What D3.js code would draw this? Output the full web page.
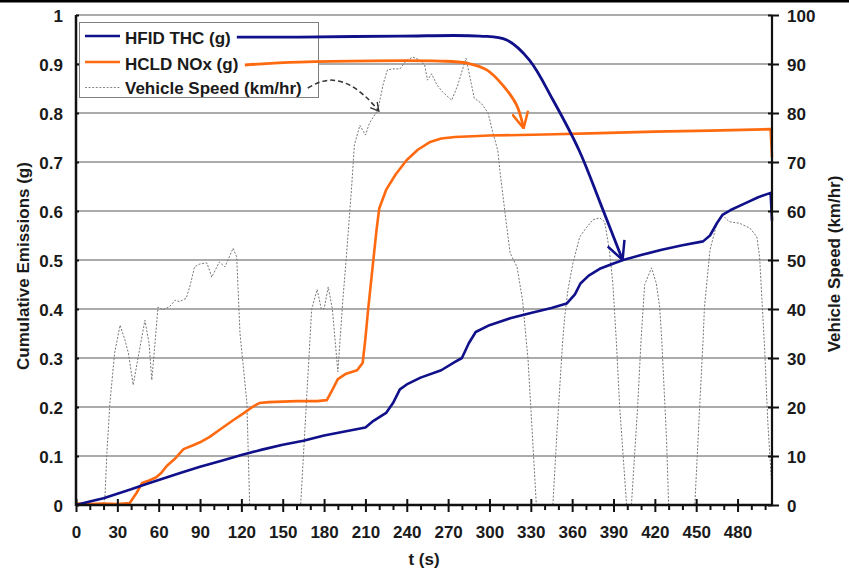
<!DOCTYPE html>
<html>
<head>
<meta charset="utf-8">
<script src="https://cdn.jsdelivr.net/npm/d3@7"></script>
<style>
  body { margin: 0; background: #fff; }
  svg { display: block; }
  text { font-family: "Liberation Sans", Arial, sans-serif; font-weight: bold; font-size: 17px; fill: #1a1a1a; }
</style>
</head>
<body>
<svg id="chart" width="849" height="571"></svg>
<script>
// cumulative THC, g  [t (s), g]
var thcSeries = [[0,0],[10,0.007],[20,0.014],[30,0.023],[40,0.032],[50,0.042],[60,0.051],[75,0.065],[90,0.078],[105,0.09],[120,0.102],[135,0.113],[150,0.123],[165,0.131],[180,0.142],[195,0.15],[210,0.158],[215,0.17],[225,0.188],[230,0.208],[235,0.236],[240,0.246],[250,0.26],[265,0.275],[275,0.292],[280,0.3],[285,0.33],[290,0.353],[300,0.367],[315,0.381],[330,0.392],[345,0.402],[356,0.411],[362,0.43],[366,0.452],[372,0.468],[380,0.482],[390,0.493],[397,0.5],[410,0.51],[425,0.521],[440,0.53],[455,0.538],[460,0.55],[465,0.575],[469,0.592],[475,0.602],[485,0.615],[495,0.628],[504,0.637],[505,0.58]];

// cumulative NOx, g
var noxSeries = [[0,0.003],[10,0.002],[20,0.003],[30,0.002],[39,0.004],[44,0.025],[48,0.045],[53,0.05],[58,0.056],[62,0.066],[66,0.08],[72,0.095],[78,0.114],[85,0.122],[90,0.128],[97,0.139],[105,0.155],[114,0.173],[122,0.188],[128,0.2],[133,0.208],[140,0.21],[160,0.212],[175,0.212],[182,0.214],[186,0.235],[190,0.257],[196,0.268],[204,0.275],[208,0.29],[210,0.34],[212,0.4],[215,0.48],[218,0.56],[220,0.605],[225,0.643],[232,0.675],[240,0.704],[248,0.725],[257,0.741],[265,0.748],[275,0.751],[300,0.754],[340,0.756],[380,0.759],[420,0.762],[460,0.764],[504,0.767],[505,0.71]];

// vehicle speed, km/hr
var speedSeries = [[0,0],[20,0],[21,1.6],[22.4,10.6],[24.6,20.8],[28,31],[32,36.7],[35.5,33.7],[38,31],[41.5,24.5],[45,30],[50,37.7],[53,33],[55,25.5],[57,32],[59.5,40.4],[63,39.8],[68,40.5],[72,41.8],[75,41.5],[80,42.2],[83,45],[86,48.6],[90,49.2],[95,49.4],[98.5,46.5],[104,49.6],[108,48.6],[114,52.4],[116.6,50.6],[119,35],[124,20.8],[126,0],[163,0],[167,20],[171,40],[175,44],[178,40],[180,40],[183,44.5],[186,40],[190,27.2],[193.6,41.8],[196,50],[200,65],[202,73.5],[206,77.5],[210,75.5],[213,78],[219,80.6],[223,86],[226,88.8],[230,89],[235,89],[240,90.8],[244.5,91.4],[249.5,90.8],[253,89.8],[255,86.7],[258,88],[262,85.7],[266,84.3],[272.6,82.6],[277,85.7],[283,91.2],[287,85.7],[289,83],[294,82],[299,80],[302,76.5],[306,72.4],[307.5,68.4],[312,58],[315,51.4],[320,48.6],[324,41.8],[328,29.6],[331,15],[334,0],[346,0],[349,15],[353,33],[354.6,38.4],[357,44],[360.6,49.4],[365.5,54.7],[370,56.5],[375,58.2],[380,58.6],[383.6,57.8],[387,52],[389.5,45.3],[392,33.7],[394.5,20],[399.5,0],[403,0],[407.5,20],[410,33.7],[412.6,45],[417.6,48.4],[421,45.3],[423.5,40.4],[425,33.7],[428.5,13.3],[430,0],[449,0],[452.5,20],[455,33.7],[456,40.4],[460,52],[465,57.5],[469,59.2],[474,57.8],[481.5,57.5],[489,56.5],[494,54.7],[496,50.6],[499.6,32.2],[502,16.7],[505,3]];

// hand-drawn callout arrows from the legend, in [t, g]
var thcArrow = [[116.7,0.955],[162,0.955],[235,0.957],[293,0.957],[312.5,0.949],[329,0.908],[346,0.827],[365,0.724],[381,0.612],[396.6,0.5]];
var noxArrow = [[122.5,0.898],[162,0.904],[264,0.906],[283.5,0.902],[298,0.888],[309.6,0.857],[319.7,0.816],[324.8,0.769]];
var speedArrow = [[168.2,0.851],[176.9,0.863],[186.3,0.867],[198.6,0.857],[211,0.831],[219.7,0.804]];

var xMajor = d3.range(0, 481, 30);
var xMinor = d3.range(0, 501, 10).filter(function(d){ return d % 30 != 0; });
var yTicks = d3.range(0, 11).map(function(d){ return d / 10; });
var speedTicks = d3.range(0, 101, 10);
var legendNames = ["HFID THC (g)", "HCLD NOx (g)", "Vehicle Speed (km/hr)"];

var svg = d3.select("#chart"),
	plotLeft = 76, plotRight = 772, plotTop = 15, plotBottom = 505;

var x = d3.scaleLinear().domain([0, 505]).range([plotLeft, plotRight]);
var y = d3.scaleLinear().domain([0, 1]).range([plotBottom, plotTop]);
var ySpeed = d3.scaleLinear().domain([0, 100]).range([plotBottom, plotTop]);

var navy = "#10108a", orange = "#ff6a10";

// frame line at the very top of the figure
svg.append("rect").attr("x", 0).attr("y", 0).attr("width", 849).attr("height", 2.5).attr("fill", "#000");

// markers
var defs = svg.append("defs");
function arrowMarker(id, color, size, w) {
	defs.append("marker")
		.attr("id", id)
		.attr("markerUnits", "userSpaceOnUse")
		.attr("viewBox", "0 0 " + size + " " + size)
		.attr("refX", size - 1).attr("refY", size / 2)
		.attr("markerWidth", size).attr("markerHeight", size)
		.attr("orient", "auto")
	  .append("path")
		.attr("d", "M1," + (size * 0.05) + " L" + (size - 1) + "," + (size / 2) + " L1," + (size * 0.95))
		.attr("fill", "none")
		.attr("stroke", color)
		.attr("stroke-width", w)
		.attr("stroke-linejoin", "miter");
}
arrowMarker("headThc", navy, 20, 2.5);
arrowMarker("headNox", orange, 18, 2.5);
arrowMarker("headSpeed", "#333", 10, 1.4);

// gridlines
svg.append("g").selectAll("line")
	.data(yTicks.filter(function(d){ return d > 0; }))
	.enter().append("line")
	.attr("x1", plotLeft).attr("x2", plotRight)
	.attr("y1", function(d){ return y(d); }).attr("y2", function(d){ return y(d); })
	.attr("stroke", "#8f8f8f").attr("stroke-width", 1.3);

var line = d3.line().x(function(d){ return x(d[0]); }).y(function(d){ return y(d[1]); });
var speedLine = d3.line().x(function(d){ return x(d[0]); }).y(function(d){ return ySpeed(d[1]); });

svg.append("path").datum(speedSeries)
	.attr("d", speedLine)
	.attr("fill", "none").attr("stroke", "#777").attr("stroke-width", 1).attr("stroke-dasharray", "2,1.6");

svg.append("path").datum(noxSeries)
	.attr("d", line)
	.attr("fill", "none").attr("stroke", orange).attr("stroke-width", 2.6).attr("stroke-linejoin", "round");

svg.append("path").datum(thcSeries)
	.attr("d", line)
	.attr("fill", "none").attr("stroke", navy).attr("stroke-width", 2.6).attr("stroke-linejoin", "round");

// axes
function styleAxis(g) {
	g.attr("font-family", null).attr("font-size", null);
	g.selectAll("text").attr("fill", "#1a1a1a");
	g.select(".domain").remove();
	g.selectAll("line").attr("stroke", "#111").attr("stroke-width", 2);
}

var xAxis = svg.append("g").attr("transform", "translate(0," + plotBottom + ")")
	.call(d3.axisBottom(x).tickValues(xMajor).tickSize(7).tickPadding(16))
	.call(styleAxis);
xAxis.selectAll(".tick line").attr("y1", -6);
xAxis.selectAll(".tick text").attr("dy", null).attr("y", 33);

svg.append("g").attr("transform", "translate(0," + plotBottom + ")")
	.call(d3.axisBottom(x).tickValues(xMinor).tickSize(5).tickFormat(""))
	.call(styleAxis);

var yAxis = svg.append("g").attr("transform", "translate(" + plotLeft + ",0)")
	.call(d3.axisLeft(y).tickValues(yTicks).tickSize(7).tickPadding(6)
		.tickFormat(function(d){ return (d == 0 || d == 1) ? d3.format("d")(d) : d3.format(".1f")(d); }))
	.call(styleAxis);
yAxis.selectAll(".tick line").attr("x2", 3);
yAxis.selectAll(".tick text").attr("dy", "0.36em");

var y2Axis = svg.append("g").attr("transform", "translate(" + plotRight + ",0)")
	.call(d3.axisRight(ySpeed).tickValues(speedTicks).tickSize(7).tickPadding(8))
	.call(styleAxis);
y2Axis.selectAll(".tick line").attr("x1", -4);
y2Axis.selectAll(".tick text").attr("dy", "0.36em");

// axis lines
svg.append("line").attr("x1", plotLeft).attr("x2", plotLeft).attr("y1", plotTop).attr("y2", plotBottom + 1).attr("stroke", "#111").attr("stroke-width", 2.5);
svg.append("line").attr("x1", plotRight).attr("x2", plotRight).attr("y1", plotTop).attr("y2", plotBottom + 1).attr("stroke", "#111").attr("stroke-width", 2.2);
svg.append("line").attr("x1", plotLeft).attr("x2", plotRight).attr("y1", plotBottom).attr("y2", plotBottom).attr("stroke", "#111").attr("stroke-width", 2.5);

// axis titles
svg.append("text").attr("x", (plotLeft + plotRight) / 2).attr("y", 565).attr("text-anchor", "middle").text("t (s)");
svg.append("text").attr("transform", "translate(29,266) rotate(-90)").attr("text-anchor", "middle").text("Cumulative Emissions (g)");
svg.append("text").attr("transform", "translate(840,264) rotate(-90)").attr("text-anchor", "middle").text("Vehicle Speed (km/hr)");

// legend
var legend = svg.append("g");
legend.append("rect").attr("x", 79.5).attr("y", 22.5).attr("width", 239).attr("height", 75)
	.attr("fill", "#fff").attr("stroke", "#808080").attr("stroke-width", 1);
var rowsY = [36, 62, 87.5], textY = [43.5, 70, 93.5];
var keyStyles = [
	{ color: navy, width: 2.6, dash: null },
	{ color: orange, width: 2.6, dash: null },
	{ color: "#888", width: 1, dash: "2,1.6" }
];
legend.selectAll("line.key").data(legendNames).enter().append("line")
	.attr("class", "key")
	.attr("x1", 85).attr("x2", 120)
	.attr("y1", function(d, i){ return rowsY[i]; }).attr("y2", function(d, i){ return rowsY[i]; })
	.attr("stroke", function(d, i){ return keyStyles[i].color; })
	.attr("stroke-width", function(d, i){ return keyStyles[i].width; })
	.attr("stroke-dasharray", function(d, i){ return keyStyles[i].dash; });
legend.selectAll("text").data(legendNames).enter().append("text")
	.attr("x", 125).attr("y", function(d, i){ return textY[i]; })
	.text(function(d){ return d; });

// callout arrows
var curve = d3.line().x(function(d){ return x(d[0]); }).y(function(d){ return y(d[1]); }).curve(d3.curveCatmullRom);

svg.append("path").datum(thcArrow).attr("d", curve)
	.attr("fill", "none").attr("stroke", navy).attr("stroke-width", 2.8).attr("marker-end", "url(#headThc)");
svg.append("path").datum(noxArrow).attr("d", curve)
	.attr("fill", "none").attr("stroke", orange).attr("stroke-width", 2.8).attr("marker-end", "url(#headNox)");
svg.append("path").datum(speedArrow).attr("d", curve)
	.attr("fill", "none").attr("stroke", "#333").attr("stroke-width", 1.5).attr("stroke-dasharray", "5,3").attr("marker-end", "url(#headSpeed)");
</script>
</body>
</html>
